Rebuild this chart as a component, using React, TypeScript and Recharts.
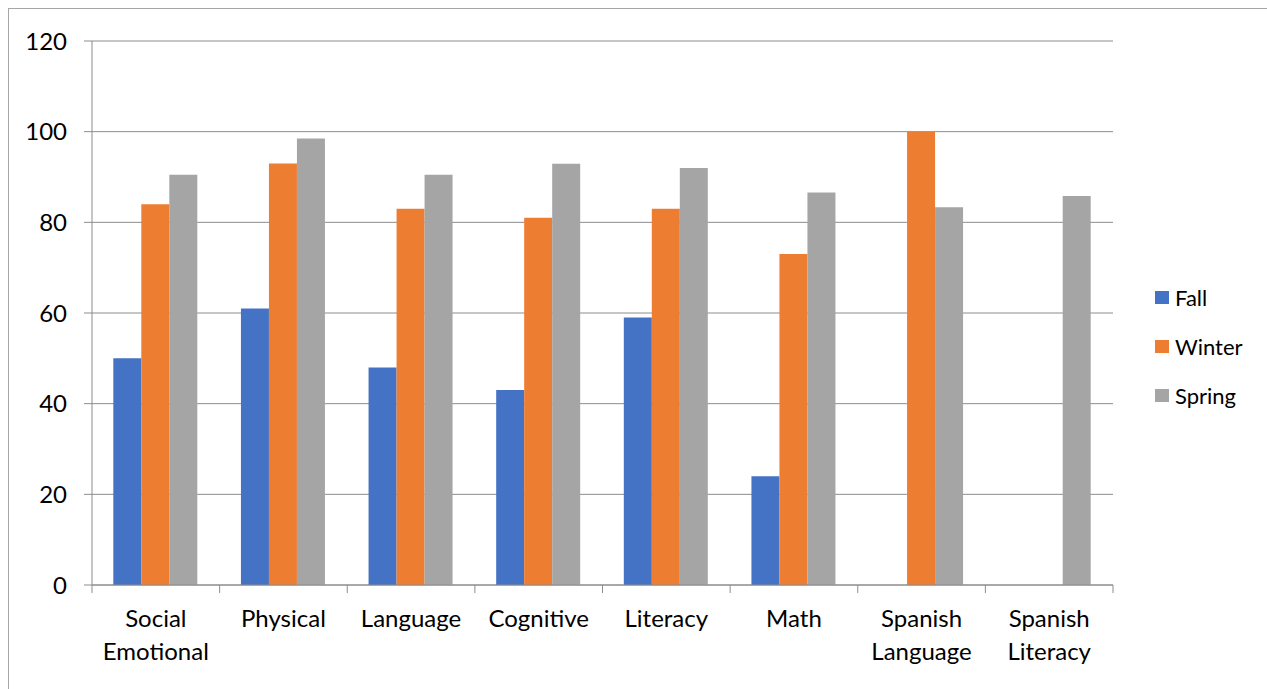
import React from 'react';
import { BarChart, Bar, XAxis, YAxis, CartesianGrid, Legend } from 'recharts';

// Assessment domains shown along the category axis
const categories = [
  'Social Emotional',
  'Physical',
  'Language',
  'Cognitive',
  'Literacy',
  'Math',
  'Spanish Language',
  'Spanish Literacy',
];

// Percent of children meeting expectations per checkpoint
const fallValues: (number | null)[] = [50, 61, 48, 43, 59, 24, null, null];
const winterValues: (number | null)[] = [84, 93, 83, 81, 83, 73, 100, null];
const springValues: (number | null)[] = [90.5, 98.5, 90.5, 92.9, 92, 86.6, 83.3, 85.8];

const yTicks = [0, 20, 40, 60, 80, 100, 120];

const series = [
  { key: 'Fall', color: '#4472C4', values: fallValues },
  { key: 'Winter', color: '#ED7D31', values: winterValues },
  { key: 'Spring', color: '#A5A5A5', values: springValues },
];

const data = categories.map((name, i) => {
  const row: Record<string, string | number | null> = { name };
  series.forEach((s) => {
    row[s.key] = s.values[i];
  });
  return row;
});

const FONT = 'Lato, "Noto Sans", sans-serif';
const AXIS_GRAY = '#8c8c8c';
const TICK_SIZE = 8;

// Category label split into words on separate lines, plus the
// boundary tick marks between categories.
function CategoryTick(props: any) {
  const { x, y, payload, index, visibleTicksCount } = props;
  const half = payload?.offset ?? 0;
  const axisY = y - TICK_SIZE;
  const words = String(payload.value).split(' ');
  const isLast = index === (visibleTicksCount ?? categories.length) - 1;
  return (
    <g>
      <line x1={x - half} x2={x - half} y1={axisY} y2={axisY + TICK_SIZE} stroke={AXIS_GRAY} />
      {isLast && (
        <line x1={x + half} x2={x + half} y1={axisY} y2={axisY + TICK_SIZE} stroke={AXIS_GRAY} />
      )}
      <text x={x} y={y} textAnchor="middle" fill="#000" fontFamily={FONT} fontSize={24}>
        {words.map((w, i) => (
          <tspan key={i} x={x} dy={i === 0 ? 34 : 33}>
            {w}
          </tspan>
        ))}
      </text>
    </g>
  );
}

function SeasonLegend() {
  return (
    <div style={{ fontFamily: FONT, fontSize: 22, color: '#000' }}>
      {series.map((s, i) => (
        <div
          key={s.key}
          style={{
            display: 'flex',
            alignItems: 'center',
            height: 20,
            marginBottom: i < series.length - 1 ? 29 : 0,
            whiteSpace: 'nowrap',
          }}
        >
          <span style={{ display: 'inline-block', width: 14, height: 13, background: s.color, marginRight: 6 }} />
          <span>{s.key}</span>
        </div>
      ))}
    </div>
  );
}

export default function App() {
  return (
    <div style={{ position: 'absolute', left: 0, top: 0, width: 1267, height: 689, background: '#fff', overflow: 'hidden' }}>
      <div
        style={{
          position: 'absolute',
          left: 8,
          top: 8,
          right: -2,
          bottom: -2,
          borderTop: '1px solid #a6a6a6',
          borderLeft: '1px solid #a6a6a6',
        }}
      />
      <BarChart
        width={1267}
        height={689}
        data={data}
        margin={{ top: 41, right: 154, bottom: 34, left: 0 }}
        barCategoryGap="16.7%"
        barGap={0}
        style={{ position: 'absolute', left: 0, top: 0 }}
      >
        <CartesianGrid vertical={false} stroke={AXIS_GRAY} strokeWidth={1} />
        <XAxis
          dataKey="name"
          height={70}
          tickLine={false}
          tickSize={TICK_SIZE}
          tickMargin={0}
          axisLine={{ stroke: AXIS_GRAY }}
          interval={0}
          tick={<CategoryTick />}
        />
        <YAxis
          width={92}
          domain={[0, 120]}
          ticks={yTicks}
          tickSize={TICK_SIZE}
          tickMargin={17}
          tickLine={{ stroke: AXIS_GRAY }}
          axisLine={{ stroke: AXIS_GRAY }}
          tick={{ fill: '#000', fontFamily: FONT, fontSize: 24 }}
          interval={0}
        />
        <Legend
          layout="vertical"
          align="center"
          verticalAlign="middle"
          content={<SeasonLegend />}
          wrapperStyle={{ left: 1155, top: 287, width: 'auto' }}
        />
        {series.map((s) => (
          <Bar key={s.key} dataKey={s.key} fill={s.color} isAnimationActive={false} />
        ))}
      </BarChart>
    </div>
  );
}
